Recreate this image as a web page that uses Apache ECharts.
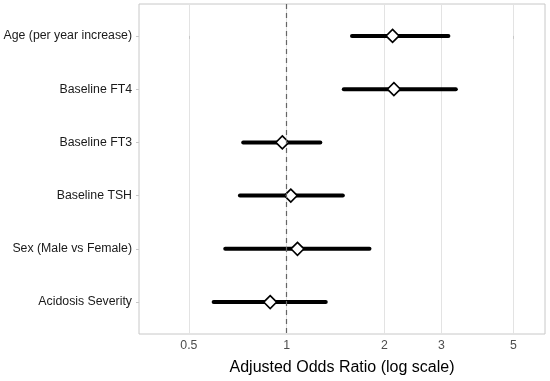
<!DOCTYPE html>
<html><head><meta charset="utf-8">
<script src="https://cdn.jsdelivr.net/npm/echarts@6/dist/echarts.min.js"></script>
<style>html,body{margin:0;padding:0;background:#fff}#c{width:550px;height:381px}</style>
</head><body><div id="c"></div>
<script>
const categories = ["Age (per year increase)", "Baseline FT4", "Baseline FT3", "Baseline TSH", "Sex (Male vs Female)", "Acidosis Severity"];
const estimates = [2.12, 2.14, 0.97, 1.03, 1.08, 0.89];
const lowerCI = [1.59, 1.50, 0.735, 0.718, 0.647, 0.596];
const upperCI = [3.15, 3.32, 1.27, 1.49, 1.80, 1.32];
const xTicks = [0.5, 1, 2, 3, 5];
const refValue = 1;

const chart = echarts.init(document.getElementById('c'), null, {renderer: 'canvas'});
const idx = categories.map((c, i) => i);
chart.setOption({
  animation: false,
  grid: {left: 139, right: 5, top: 4, bottom: 44, containLabel: false,
         show: true, borderColor: '#c8c8c8', borderWidth: 1},
  xAxis: {
    type: 'log', logBase: 10, min: 0.351, max: 6.25,
    name: 'Adjusted Odds Ratio (log scale)', nameLocation: 'middle', nameGap: 26,
    nameTextStyle: {fontFamily: 'Liberation Sans', fontSize: 16, color: '#000'},
    axisLine: {show: false},
    axisTick: {show: true, length: 3, lineStyle: {color: '#c8c8c8'}, customValues: xTicks},
    axisLabel: {customValues: xTicks, fontFamily: 'Liberation Sans', fontSize: 12.3, color: '#4d4d4d', margin: 6,
                formatter: v => String(v)},
    splitLine: {show: true, lineStyle: {color: '#e3e3e3', width: 1}},
    minorSplitLine: {show: false}
  },
  yAxis: {
    type: 'value', min: -0.6, max: 5.6, inverse: true,
    axisLine: {show: false},
    axisTick: {show: true, length: 3, lineStyle: {color: '#c8c8c8'}, customValues: idx},
    axisLabel: {customValues: idx, fontFamily: 'Liberation Sans', fontSize: 12.3, color: '#1a1a1a', margin: 7,
                formatter: v => categories[Math.round(v)] || ''},
    splitLine: {show: false}
  },
  series: [
    {
      type: 'custom',
      data: idx.map(i => [lowerCI[i], upperCI[i], i]),
      renderItem: function (params, api) {
        const p1 = api.coord([api.value(0), api.value(2)]);
        const p2 = api.coord([api.value(1), api.value(2)]);
        return {type: 'line', shape: {x1: p1[0], y1: p1[1], x2: p2[0], y2: p2[1]},
                style: {stroke: '#000', lineWidth: 4, lineCap: 'round'}};
      },
      markLine: {
        silent: true, symbol: 'none', label: {show: false},
        lineStyle: {color: '#666', type: [5, 4], width: 1.2},
        data: [{xAxis: refValue}]
      },
      z: 2
    },
    {
      type: 'scatter',
      data: idx.map(i => [estimates[i], i]),
      symbol: 'diamond', symbolSize: [13, 13],
      itemStyle: {color: '#fff', borderColor: '#000', borderWidth: 1.6, opacity: 1},
      z: 3
    }
  ]
});
</script></body></html>
